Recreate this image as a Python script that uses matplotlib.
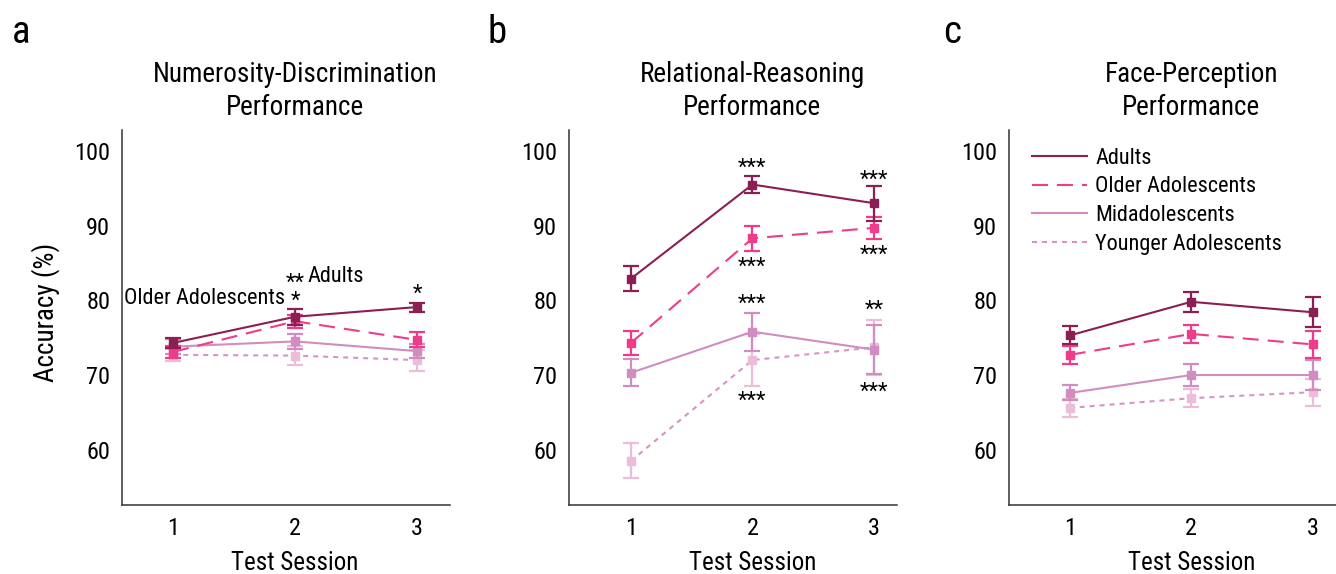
import matplotlib
matplotlib.use('Agg')
import matplotlib.pyplot as plt
import matplotlib.transforms as mtransforms
from matplotlib.lines import Line2D

plt.rcParams['font.family'] = ['Roboto Condensed', 'Liberation Sans', 'DejaVu Sans']
plt.rcParams['lines.scale_dashes'] = False

sessions = [1, 2, 3]
groups = ['Adults', 'Older Adolescents', 'Midadolescents', 'Younger Adolescents']

# rows follow the order of groups, columns are test sessions 1-3
numer_mean = [[74.3, 77.8, 79.1], [73.1, 77.2, 74.7], [73.8, 74.5, 73.2], [72.7, 72.6, 72.0]]
numer_err = [[0.7, 1.1, 0.6], [0.8, 0.9, 1.0], [1.0, 1.0, 0.9], [0.8, 1.3, 1.4]]

relat_mean = [[82.9, 95.5, 93.0], [74.3, 88.3, 89.7], [70.3, 75.8, 73.4], [58.5, 72.0, 73.7]]
relat_err = [[1.7, 1.15, 2.35], [1.6, 1.7, 1.5], [1.8, 2.55, 3.3], [2.35, 3.5, 3.7]]

face_mean = [[75.3, 79.8, 78.4], [72.7, 75.5, 74.1], [67.6, 70.0, 70.0], [65.6, 66.9, 67.7]]
face_err = [[1.2, 1.3, 2.0], [1.2, 1.2, 1.85], [1.0, 1.5, 2.0], [1.2, 1.2, 1.8]]

titles = [('Numerosity-Discrimination', 'Performance'),
          ('Relational-Reasoning', 'Performance'),
          ('Face-Perception', 'Performance')]
letters = ['a', 'b', 'c']

# significance labels: (session, centre of last line in accuracy units, text)
numer_stars = [(2.0, 80.5, '**\n*'), (3.0, 81.5, '*')]
relat_stars = [(2, 98.3, '***'), (2, 85.1, '***'), (2, 80.1, '***'), (2, 67.1, '***'),
               (3, 96.7, '***'), (3, 86.7, '***'), (3, 79.3, '**'), (3, 68.3, '***')]

line_cols = ['#8b1e52', '#ee3c8a', '#d18cc0', '#d494c6']
mark_cols = ['#8b1e52', '#ee3c8a', '#d18cc0', '#ebbdd9']
dash_styles = ['-', (0, (11.5, 6.5)), '-', (0, (3.6, 3.6))]

fig = plt.figure(figsize=(13.36, 5.74), dpi=100)
lefts = [122 / 1336, 569 / 1336, 1009 / 1336]
xlims = [(0.58, 3.27), (0.49, 3.19), (0.50, 3.20)]
letter_x = [12, 488, 943]
panels = [(numer_mean, numer_err), (relat_mean, relat_err), (face_mean, face_err)]

star_shift = 1.4  # asterisk glyph sits above the baseline

for i, (means, errs) in enumerate(panels):
    ax = fig.add_axes([lefts[i], 69 / 574, 328 / 1336, 375 / 574])
    for g in reversed(range(4)):
        ax.plot(sessions, means[g], color=line_cols[g], ls=dash_styles[g], lw=1.5, zorder=2 + (3 - g))
        ax.errorbar(sessions, means[g], yerr=errs[g], fmt='s', color=mark_cols[g], ms=6.3,
                    capsize=5.5, capthick=1.6, elinewidth=1.6, zorder=3 + (3 - g))
    ax.set_xlim(*xlims[i])
    ax.set_ylim(52.6, 102.8)
    ax.set_xticks(sessions)
    ax.set_yticks([60, 70, 80, 90, 100])
    ax.tick_params(length=0, labelsize=17.5, pad=8.5)
    for s in ['top', 'right']:
        ax.spines[s].set_visible(False)
    for s in ['left', 'bottom']:
        ax.spines[s].set_color('#333333')
        ax.spines[s].set_linewidth(1.1)

    trans = mtransforms.blended_transform_factory(ax.transData, ax.transAxes)
    ax.text(2, 1.128, titles[i][0], transform=trans, ha='center', va='baseline', fontsize=19.5)
    ax.text(2, 1.040, titles[i][1], transform=trans, ha='center', va='baseline', fontsize=19.5)
    ax.text(2, -0.173, 'Test Session', transform=trans, ha='center', va='baseline', fontsize=18)
    fig.text(letter_x[i] / 1336, 1 - 43 / 574, letters[i], fontsize=28, va='baseline')

    if i == 0:
        ax.set_ylabel('Accuracy (%)', fontsize=19.5)
        ax.yaxis.set_label_coords(-0.19, 0.513)
        ax.text(1.92, 79.46, 'Older Adolescents', ha='right', va='baseline', fontsize=16)
        ax.text(2.10, 82.4, 'Adults', ha='left', va='baseline', fontsize=16)
        for x, y, t in numer_stars:
            ax.text(x, y - star_shift, t, ha='center', va='baseline', fontsize=16,
                    multialignment='center', linespacing=0.85)
    if i == 1:
        for x, y, t in relat_stars:
            ax.text(x, y - star_shift, t, ha='center', va='baseline', fontsize=16)
    if i == 2:
        handles = [Line2D([0], [0], color=line_cols[g], ls=dash_styles[g], lw=1.5) for g in range(4)]
        ax.legend(handles, groups, loc='upper left', bbox_to_anchor=(0.071, 0.953),
                  frameon=False, fontsize=16, handlelength=2.48, handletextpad=0.36,
                  labelspacing=0.345, borderpad=0, borderaxespad=0)

fig.savefig('out.png', dpi=100)
